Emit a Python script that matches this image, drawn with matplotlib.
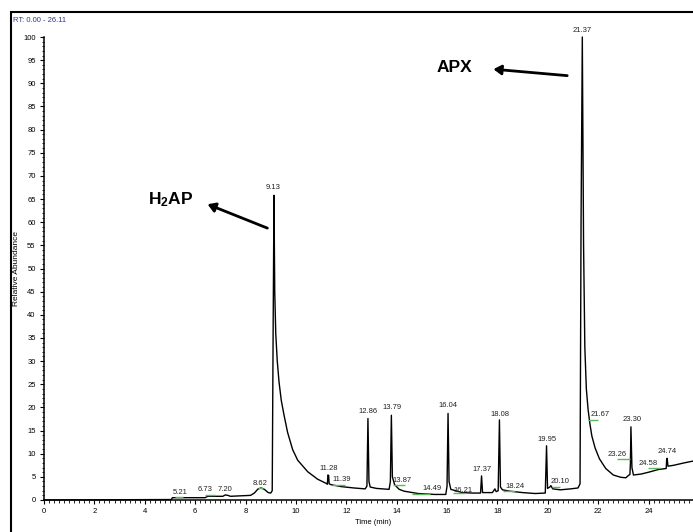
import numpy as np
import matplotlib
matplotlib.use("Agg")
import matplotlib.pyplot as plt
from matplotlib.patches import Rectangle
from matplotlib.ticker import MultipleLocator

plt.rcParams["font.family"] = ["Liberation Sans", "DejaVu Sans"]
plt.rcParams["mathtext.fontset"] = "custom"
plt.rcParams["mathtext.rm"] = "Liberation Sans"
plt.rcParams["mathtext.bf"] = "Liberation Sans:bold"

# chromatogram trace (retention time, relative abundance)
rt = [0.0, 5.05, 5.1, 6.4, 6.5, 7.1, 7.2, 7.3, 7.4, 8.2, 8.35, 8.5, 8.62, 8.75, 8.9, 9.0,
      9.06, 9.10, 9.13, 9.16, 9.20, 9.26, 9.33, 9.42, 9.53, 9.67, 9.87, 10.07, 10.47, 10.86,
      11.20, 11.25, 11.27, 11.30, 11.32, 11.40, 11.79, 12.3, 12.75, 12.82, 12.86, 12.90,
      12.95, 13.2, 13.7, 13.75, 13.79, 13.83, 13.92, 14.1, 14.3, 14.85, 15.5, 15.95, 16.0,
      16.04, 16.08, 16.15, 16.6, 17.0, 17.33, 17.37, 17.41, 17.8, 17.9, 17.95, 18.03,
      18.08, 18.12, 18.2, 18.5, 19.0, 19.5, 19.9, 19.95, 19.99, 20.08, 20.12, 20.2, 20.5,
      20.9, 21.2, 21.28, 21.32, 21.37, 21.42, 21.47, 21.53, 21.60, 21.67, 21.75, 21.88,
      22.05, 22.3, 22.6, 22.9, 23.1, 23.2, 23.26, 23.28, 23.30, 23.34, 23.4, 23.7, 24.0,
      24.4, 24.7, 24.72, 24.74, 24.77, 25.0, 25.4, 25.76, 26.11]
abundance = [0.0, 0.1, 0.5, 0.5, 0.8, 0.8, 1.1, 1.0, 0.8, 1.0, 1.5, 2.4, 2.6, 2.3, 1.6, 1.5,
             2.0, 40, 65.8, 45, 36, 30, 25.5, 21.5, 18.3, 14.6, 10.9, 8.6, 6.1, 4.5,
             3.6, 3.4, 5.4, 5.3, 3.5, 3.3, 2.9, 2.6, 2.4, 3.0, 17.6, 4.0,
             2.8, 2.5, 2.3, 4.0, 18.3, 5.0, 3.3, 2.3, 1.9, 1.4, 1.2, 1.2, 3.0,
             18.7, 4.0, 2.3, 1.6, 1.5, 1.5, 5.2, 1.6, 1.6, 2.4, 1.8, 2.0,
             17.3, 2.8, 2.2, 1.9, 1.6, 1.4, 1.5, 11.7, 2.5, 2.8, 3.1, 2.4, 2.2,
             2.4, 2.6, 3.5, 60, 100, 55, 33, 24, 19.5, 16.5, 13.8, 11.2,
             8.9, 6.8, 5.4, 4.9, 4.8, 5.3, 5.5, 8.0, 15.8, 7.0, 5.4, 5.6, 6.0,
             6.6, 6.8, 8.8, 9.0, 7.3, 7.5, 8.0, 8.4, 8.6]

# peak labels: text, label x, label y
peak_text = ["5.21", "6.73", "7.20", "8.62", "9.13", "11.28", "11.39", "12.86", "13.79",
             "13.87", "14.49", "16.04", "16.21", "17.37", "18.08", "18.24", "19.95", "20.10",
             "21.37", "21.67", "23.30", "23.26", "24.58", "24.74"]
peak_x = [5.40, 6.39, 7.19, 8.57, 9.11, 11.31, 11.82, 12.85, 13.80, 14.20, 15.39, 16.05,
          16.65, 17.38, 18.10, 18.70, 19.98, 20.48, 21.35, 22.07, 23.33, 22.74, 23.99, 24.72]
peak_y = [1.6, 2.2, 2.2, 3.5, 67.4, 6.8, 4.5, 19.1, 20.0, 4.3, 2.5, 20.5,
          2.0, 6.6, 18.4, 3.0, 13.0, 4.0, 101.5, 18.4, 17.3, 9.9, 7.9, 10.4]

# green integration baselines: start, end, level
base_x0 = [5.20, 6.39, 8.50, 11.42, 13.87, 14.60, 16.24, 18.23, 20.15, 21.61, 22.73, 23.99]
base_x1 = [5.53, 6.79, 8.70, 11.95, 14.33, 15.32, 16.70, 18.70, 20.48, 22.00, 23.26, 24.45]
base_y = [0.6, 1.1, 2.5, 3.2, 3.2, 1.4, 1.6, 1.9, 2.9, 17.2, 8.8, 6.9]

x_ticks = list(range(0, 25, 2))

W, H = 693, 532
fig = plt.figure(figsize=(W / 100, H / 100), dpi=100)
ax = fig.add_axes([44 / W, 32 / H, 26.11 * 25.19 / W, 463 / H])

ax.plot(rt, abundance, color="black", lw=1.0, clip_on=False)
ax.hlines(base_y, base_x0, base_x1, color="#5cb85c", lw=1.0)
for t, x, y in zip(peak_text, peak_x, peak_y):
    ax.text(x, y, t, fontsize=5.5, color="#222222", ha="center", va="center")

ax.set_xlim(0, 26.11)
ax.set_ylim(0, 100)
ax.spines["top"].set_visible(False)
ax.spines["right"].set_visible(False)
ax.spines["left"].set_linewidth(1.1)
ax.spines["bottom"].set_linewidth(1.1)
ax.set_xticks(x_ticks)
ax.xaxis.set_minor_locator(MultipleLocator(0.2))
ax.yaxis.set_major_locator(MultipleLocator(5))
ax.yaxis.set_minor_locator(MultipleLocator(1))
ax.tick_params(which="major", length=3, width=0.8, labelsize=5.5, pad=3)
ax.tick_params(which="minor", length=1.8, width=0.6)
ax.set_xlabel("Time (min)", fontsize=5.5, labelpad=3)
ax.set_ylabel("Relative Abundance", fontsize=6)
ax.yaxis.set_label_coords(-24 / 657.7, 0.5)

ax.text(5.02, 64.8, r"$\mathbf{H_2AP}$", fontsize=12.5, ha="center", va="center")
ax.text(16.28, 93.5, "APX", fontsize=12.5, fontweight="bold", ha="center", va="center")
ax.annotate("", xy=(6.39, 64.1), xytext=(8.97, 58.5),
            arrowprops=dict(arrowstyle="-|>,head_length=0.45,head_width=0.28",
                            color="black", lw=2))
ax.annotate("", xy=(17.73, 93.1), xytext=(20.88, 91.6),
            arrowprops=dict(arrowstyle="-|>,head_length=0.45,head_width=0.28",
                            color="black", lw=2))

fig.patches.append(Rectangle((11 / W, -0.2), 1.2, 1.2 - 12 / H, transform=fig.transFigure,
                             fill=False, edgecolor="black", lw=1.5))
fig.text(13 / W, 1 - 20 / H, "RT: 0.00 - 26.11", fontsize=5.5, color="#2b3a8c",
         ha="left", va="center")

fig.savefig("out.png", dpi=100)
